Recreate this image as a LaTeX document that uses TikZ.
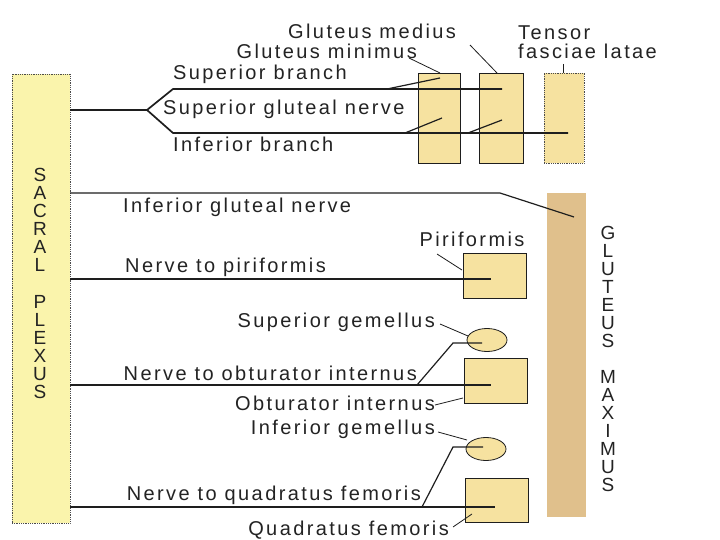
\documentclass[tikz,border=0pt]{standalone}
\usepackage{fontspec}
\newfontfamily\labfont{Liberation Sans}[LetterSpace=12]
\newfontfamily\capfont{Liberation Sans}
\usetikzlibrary{shapes.geometric}
\definecolor{sacralc}{RGB}{250,244,172}
\definecolor{musclec}{RGB}{246,226,160}
\definecolor{maxc}{RGB}{224,192,140}
\definecolor{linec}{RGB}{30,30,30}
\definecolor{textc}{RGB}{35,35,35}
\tikzset{
  muscle/.style={draw=linec, line width=0.8pt, fill=musclec, inner sep=0pt, outer sep=0pt},
  dotbox/.style={draw=linec!80, densely dotted, line width=0.8pt, inner sep=0pt, outer sep=0pt},
  gem/.style={ellipse, draw=linec, line width=0.8pt, fill=musclec, inner sep=0pt,
              minimum width=40pt, minimum height=23pt},
  nerve/.style={draw=linec, line width=1.2pt},
  thick nerve/.style={draw=linec, line width=1.7pt},
  lead/.style={draw=linec, line width=0.8pt},
  lab/.style={font=\labfont\fontsize{20}{22}\selectfont, text=textc, inner sep=0pt},
  vcol/.style={text=textc, inner sep=0pt, anchor=north, align=center},
}
\begin{document}
\begin{tikzpicture}[x=1pt,y=-1pt]
\useasboundingbox (0,0) rectangle (720,540);
\fill[white] (0,0) rectangle (720,540);

% boxes
\node[dotbox, fill=sacralc, anchor=north west, minimum width=58pt, minimum height=449pt] (sacral) at (12,74) {};
\node[muscle, anchor=north west, minimum width=42pt, minimum height=90pt] (gmin) at (418,73) {};
\node[muscle, anchor=north west, minimum width=44pt, minimum height=90pt] (gmed) at (479,73) {};
\node[dotbox, fill=musclec, anchor=north west, minimum width=40pt, minimum height=90pt] (tfl) at (544,73) {};
\node[fill=maxc, inner sep=0pt, anchor=north west, minimum width=39pt, minimum height=324pt] (gmax) at (547,193) {};
\node[muscle, anchor=north west, minimum width=63pt, minimum height=45pt] (pir) at (463,253) {};
\node[muscle, anchor=north west, minimum width=63pt, minimum height=45pt] (obi) at (464,358) {};
\node[muscle, anchor=north west, minimum width=63pt, minimum height=44pt] (qfb) at (465,478) {};
\node[gem] (sgem) at (487,340) {};
\node[gem] (igem) at (486,449) {};

% vertical captions
\node[vcol, font=\capfont\fontsize{19}{18}\selectfont] (sacw) at (40,168) {S\\A\\C\\R\\A\\L};
\node[vcol, font=\capfont\fontsize{19}{18}\selectfont] (plxw) at (40,295) {P\\L\\E\\X\\U\\S};
\node[vcol, font=\capfont\fontsize{19}{18}\selectfont] (glw) at (608,226) {G\\L\\U\\T\\E\\U\\S};
\node[vcol, font=\capfont\fontsize{19}{18.1}\selectfont] (mxw) at (608,370) {M\\A\\X\\I\\M\\U\\S};

% coordinates of nerve paths
\coordinate (sgS) at (sacral.east |- 0,110);
\coordinate (fork) at (147,110);
\coordinate (ubA) at (173,89);
\coordinate (ubB) at (502,89);
\coordinate (lbA) at (173,133);
\coordinate (lbB) at (568,133);
\coordinate (tw1a) at (387,89);
\coordinate (tw1b) at (440,78);
\coordinate (tw2a) at (405,133);
\coordinate (tw2b) at (442,118);
\coordinate (tw3a) at (468,133);
\coordinate (tw3b) at (502,120);
\coordinate (igS) at (sacral.east |- 0,193);
\coordinate (igK) at (500,193);
\coordinate (igE) at (574,217);
\coordinate (npS) at (sacral.east |- 0,279);
\coordinate (npE) at (491,279);
\coordinate (noS) at (sacral.east |- 0,385);
\coordinate (noE) at (491,385);
\coordinate (sgA) at (417,385);
\coordinate (sgK) at (453,343);
\coordinate (sgE) at (482,343);
\coordinate (nqS) at (sacral.east |- 0,507);
\coordinate (nqE) at (495,507);
\coordinate (iqA) at (422,507);
\coordinate (iqK) at (453,447);
\coordinate (iqE) at (483,447);

% nerves
\draw[nerve] (sgS) -- (fork);
\draw[thick nerve, line join=miter] (ubB) -- (ubA) -- (fork) -- (lbA) -- (lbB);
\draw[nerve] (tw1a) -- (tw1b);
\draw[nerve] (tw2a) -- (tw2b);
\draw[nerve] (tw3a) -- (tw3b);
\draw[nerve] (igS) -- (igK) -- (igE);
\draw[nerve] (npS) -- (npE);
\draw[nerve] (noS) -- (noE);
\draw[nerve] (sgA) -- (sgK) -- (sgE);
\draw[nerve] (nqS) -- (nqE);
\draw[nerve] (iqA) -- (iqK) -- (iqE);

% labels
\node[lab, anchor=base west] (lgmed) at (288,39) {Gluteus medius};
\node[lab, anchor=base east] (lgmin) at (417,59) {Gluteus minimus};
\node[lab, anchor=base west] (ltens) at (518,40) {Tensor};
\node[lab, anchor=base west] (lfasc) at (518,59) {fasciae latae};
\node[lab, anchor=base west] (lsupb) at (173,80) {Superior branch};
\node[lab, anchor=base west] (lsgn) at (163,115) {Superior gluteal nerve};
\node[lab, anchor=base west] (linfb) at (173,152) {Inferior branch};
\node[lab, anchor=base west] (lign) at (123,213) {Inferior gluteal nerve};
\node[lab, anchor=base] (lpir) at (472,247) {Piriformis};
\node[lab, anchor=base west] (lntp) at (125,272) {Nerve to piriformis};
\node[lab, anchor=base east] (lsgem) at (435,327) {Superior gemellus};
\node[lab, anchor=base east] (lntoi) at (417,380) {Nerve to obturator internus};
\node[lab, anchor=base east] (loi) at (435,410) {Obturator internus};
\node[lab, anchor=base east] (ligem) at (435,434) {Inferior gemellus};
\node[lab, anchor=base east] (lntqf) at (421,500) {Nerve to quadratus femoris};
\node[lab, anchor=base east] (lqf) at (449,535) {Quadratus femoris};

% leaders
\coordinate (a1) at (409,58); \coordinate (b1) at (440,73);
\coordinate (a2) at (470,45); \coordinate (b2) at (497,73);
\coordinate (a3) at (563,64); \coordinate (b3) at (563,73);
\coordinate (a4) at (437,254); \coordinate (b4) at (462,270);
\coordinate (a5) at (440,324); \coordinate (b5) at (468,336);
\coordinate (a6) at (435,405); \coordinate (b6) at (463,398);
\coordinate (a7) at (438,432); \coordinate (b7) at (467,440);
\coordinate (a8) at (453,527); \coordinate (b8) at (472,514);
\foreach \k in {1,...,8} \draw[lead] (a\k) -- (b\k);
\end{tikzpicture}
\end{document}
